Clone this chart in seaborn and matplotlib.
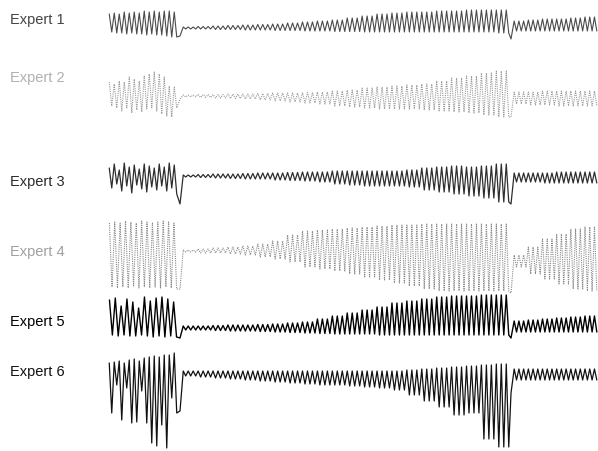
import numpy as np
import pandas as pd
import seaborn as sns
import matplotlib.pyplot as plt

# Six expert traces in pixel units
# hi = peak height above the baseline, lo = trough depth below it
experts = ["Expert 1", "Expert 2", "Expert 3", "Expert 4", "Expert 5", "Expert 6"]
baselines = [29, 97, 177, 252, 329, 374]

# burst segment (one value per cycle)
burst_hi = [
    [14, 15, 14, 16, 15, 16, 15, 17, 16, 17, 16, 17, 17, 16],
    [14, 12, 15, 14, 19, 17, 15, 20, 22, 24, 22, 19, 10, 9],
    [8, 12, 6, 13, 9, 11, 7, 12, 10, 8, 12, 9, 13, 11],
    [28, 29, 28, 30, 29, 28, 30, 29, 28, 29, 30, 29, 28],
    [28, 30, 22, 29, 26, 20, 31, 27, 30, 31, 29, 26],
    [10, 11, 12, 10, 13, 14, 12, 15, 16, 17, 16, 18, 18, 20],
]
burst_lo = [
    [4, 5, 5, 6, 5, 6, 6, 7, 6, 7, 7, 8, 9, 9],
    [10, 12, 15, 12, 17, 14, 16, 13, 12, 15, 18, 20, 21, 12],
    [12, 8, 15, 10, 17, 9, 13, 16, 11, 14, 10, 15, 12, 18],
    [36, 37, 36, 37, 35, 37, 36, 37, 36, 37, 36, 37, 38],
    [7, 8, 7, 8, 8, 7, 8, 9, 8, 9, 8, 9],
    [40, 12, 47, 15, 50, 49, 18, 50, 70, 73, 52, 75, 25, 40],
]
dip_1 = [8, 3, 28, 38, 10, 38]

# long middle segment (one value per block of 3 cycles)
mid_hi = [
    [1, 1.5, 2, 2.5, 3, 3.5, 4, 5, 6, 7, 8, 10, 12, 14, 15, 16, 16, 17, 17, 18, 18, 18],
    [1, 1.5, 1.5, 2, 2, 2.5, 3, 3, 3.5, 4, 5, 6, 8, 9, 10, 11, 12, 15, 18, 20, 23, 25],
    [1, 1.5, 2, 2, 2.5, 3, 3, 3.5, 4, 4, 5, 5, 5, 5, 5, 6, 8, 9, 10, 9, 10, 12],
    [1, 2, 3, 4, 5, 7, 10, 16, 20, 21, 22, 23, 24, 25, 26, 26, 27, 27, 27, 27, 27, 27],
    [2, 2, 2.5, 3, 3, 3.5, 4, 5, 6, 9, 12, 15, 18, 21, 25, 27, 29, 31, 32, 32, 33, 33],
    [2, 2, 2, 2, 2, 2, 2, 2, 2, 2, 2, 2, 2, 2, 2, 3, 4, 5, 6, 7, 8, 9],
]
mid_lo = [
    [1, 1, 1.5, 1.5, 2, 2, 2.5, 2.5, 3, 3, 3.5, 3.5, 4, 4, 4, 4, 4, 4, 4, 4, 4, 5],
    [1, 1.5, 2, 2.5, 3, 4, 5, 6, 7, 8, 10, 11, 12, 13, 13, 13, 14, 15, 16, 17, 19, 21],
    [1, 1.5, 2, 2.5, 3, 3, 4, 4.5, 5, 6, 8, 9, 10, 10, 10, 11, 14, 16, 18, 20, 22, 26],
    [1, 2, 2, 3, 4, 6, 8, 11, 16, 18, 20, 23, 26, 29, 32, 35, 38, 40, 40, 40, 40, 40],
    [2, 2, 2.5, 3, 3, 3.5, 4, 4.5, 5, 5.5, 6, 6, 6, 7, 7, 7, 7, 7, 7, 7, 7, 7],
    [3, 4, 5, 6, 7, 8, 9, 10, 11, 12, 12, 13, 14, 15, 17, 22, 28, 34, 42, 40, 66, 74],
]
dip_2 = [11, 21, 28, 42, 10, 20]

# last segment (one value per block of 3 cycles)
end_hi = [
    [7, 8, 9, 9, 10, 11],
    [4, 4, 5, 5, 5, 5],
    [3, 3, 3, 4, 4, 4],
    [-4, 4, 12, 17, 22, 24],
    [7, 8, 9, 10, 11, 12],
    [4, 4, 4, 4, 4, 4],
]
end_lo = [
    [3, 3, 3, 3, 3, 3],
    [8, 9, 9, 10, 10, 10],
    [6, 6, 7, 7, 7, 7],
    [16, 23, 28, 33, 38, 40],
    [4, 4, 4, 4, 4, 4],
    [7, 7, 7, 7, 7, 7],
]

label_y = [20, 78, 182, 252, 322, 372]
label_colors = ["#444444", "#b0b0b0", "#2a2a2a", "#a0a0a0", "#000000", "#111111"]
line_colors = ["#4a4a4a", "#9a9a9a", "#2e2e2e", "#8a8a8a", "#000000", "#111111"]
line_styles = ["-", (0, (1, 1)), "-", (0, (1, 1)), "-", "-"]
line_widths = [0.8, 0.8, 0.9, 0.8, 1.0, 0.9]

X0, X1, X2, X3 = 108, 178, 510, 598


def cycles(x_start, x_end, hi, lo):
    n = len(hi)
    p = (x_end - x_start) / n
    xs, ys = [], []
    for i in range(n):
        xs += [x_start + (i + 0.25) * p, x_start + (i + 0.75) * p]
        ys += [hi[i], -lo[i]]
    return xs, ys


rows = []
for k, name in enumerate(experts):
    xs, ys = cycles(X0, X1, burst_hi[k], burst_lo[k])
    xs.append(X1 + 2)
    ys.append(-dip_1[k])
    mx, my = cycles(X1 + 4, X2, np.repeat(mid_hi[k], 3), np.repeat(mid_lo[k], 3))
    xs += mx
    ys += my
    xs.append(X2 + 1)
    ys.append(-dip_2[k])
    ex, ey = cycles(X2 + 3, X3, np.repeat(end_hi[k], 3), np.repeat(end_lo[k], 3))
    xs += ex
    ys += ey
    for i, (x, y) in enumerate(zip(xs, ys)):
        rows.append({"expert": name, "order": i, "x": x, "y": baselines[k] - y})

df = pd.DataFrame(rows)

sns.set_style("white")
fig = plt.figure(figsize=(5.98, 4.52), dpi=100)
ax = fig.add_axes([0, 0, 1, 1])

for k, name in enumerate(experts):
    sub = df[df["expert"] == name]
    sns.lineplot(data=sub, x="x", y="y", sort=False, estimator=None, ax=ax,
                 color=line_colors[k], linestyle=line_styles[k],
                 linewidth=line_widths[k])
    ax.text(10, label_y[k], name, fontsize=10.5, color=label_colors[k],
            va="center", ha="left", family="Liberation Sans")

ax.set_xlim(0, 598)
ax.set_ylim(452, 0)
ax.axis("off")

plt.savefig("out.png", dpi=100)
